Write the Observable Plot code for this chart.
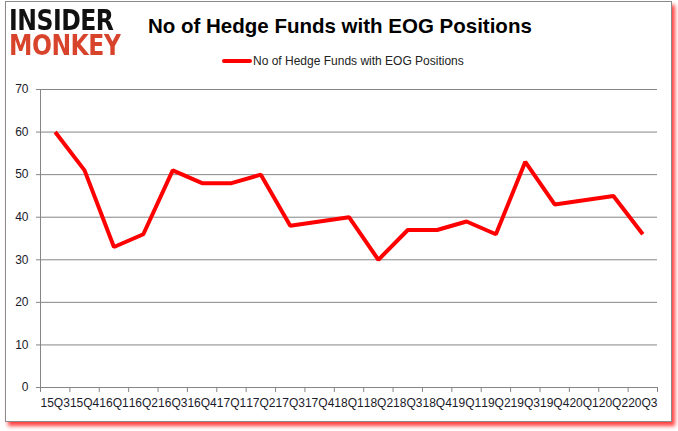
<!DOCTYPE html>
<html>
<head>
<meta charset="utf-8">
<script src="https://cdn.jsdelivr.net/npm/d3@7"></script>
<script src="https://cdn.jsdelivr.net/npm/@observablehq/plot@0.6"></script>
<style>
  html, body { margin: 0; padding: 0; background: #fff; }
  #wrap { position: relative; width: 678px; height: 431px; overflow: hidden; font-family: "Liberation Sans", Arial, sans-serif; }
  #frame { position: absolute; left: 5px; top: 1px; width: 665px; height: 419px; border: 1px solid #8a8a8a; box-shadow: 3px 4px 4px rgba(255,0,0,0.75); background: #fff; }
  #chart { position: absolute; left: 0; top: 0; }
  #title { position: absolute; left: 148px; top: 14px; font-family: "Liberation Sans", Arial, sans-serif; font-weight: bold; font-size: 20.5px; color: #000; white-space: nowrap; }
  #logo { position: absolute; left: 9px; top: 8.8px; font-family: "DejaVu Sans", sans-serif; font-weight: bold; white-space: pre; letter-spacing: -0.5px; font-size: 24px; line-height: 20.5px; transform-origin: 0 0; transform: scale(0.98, 1.17);
          background: linear-gradient(to bottom, #111 0px, #111 20.3px, #d8432c 20.3px, #d8432c 100%); -webkit-background-clip: text; background-clip: text; color: transparent; }
  #legend { position: absolute; left: 222px; top: 54px; font-size: 12px; color: #222; white-space: nowrap; display: flex; align-items: center; }
  #legend .sw { display: inline-block; width: 30px; height: 4px; background: #ff0000; border-radius: 2px; margin-right: 1px; }
</style>
</head>
<body>
<div id="wrap">
  <div id="frame"></div>
  <div id="chart"></div>
  <div id="logo">INSIDER
MONKEY</div>
  <div id="title">No of Hedge Funds with EOG Positions</div>
  <div id="legend"><span class="sw"></span><span>No of Hedge Funds with EOG Positions</span></div>
</div>
<script>
const quarters = ["15Q3","15Q4","16Q1","16Q2","16Q3","16Q4","17Q1","17Q2","17Q3","17Q4","18Q1","18Q2","18Q3","18Q4","19Q1","19Q2","19Q3","19Q4","20Q1","20Q2","20Q3"];
const funds = [60, 51, 33, 36, 51, 48, 48, 50, 38, 39, 40, 30, 37, 37, 39, 36, 53, 43, 44, 45, 36];
const yTicks = [0, 10, 20, 30, 40, 50, 60, 70];

const data = quarters.map((q, i) => ({i, q, v: funds[i]}));
const xMin = -0.5, xMax = quarters.length - 0.5;
const boundaries = d3.range(quarters.length + 1).map(k => k - 0.5);

const chart = Plot.plot({
  width: 678,
  height: 431,
  marginTop: 89,
  marginBottom: 44,
  marginLeft: 40,
  marginRight: 21,
  style: {fontFamily: "Liberation Sans, Arial, sans-serif", fontSize: "12px", color: "#1a1a2a", background: "transparent"},
  x: {domain: [xMin, xMax]},
  y: {domain: [0, 70]},
  marks: [
    Plot.gridY(yTicks.filter(t => t > 0), {stroke: "#868686", strokeOpacity: 1, strokeWidth: 1}),
    Plot.ruleX([xMin], {stroke: "#868686", strokeWidth: 1}),
    Plot.ruleY([0], {stroke: "#868686", strokeWidth: 1}),
    Plot.axisY({ticks: yTicks, tickSize: 4, tickPadding: 8, stroke: "#868686", label: null, tickFormat: d => String(d)}),
    Plot.axisX({ticks: boundaries, tickSize: 5, tickFormat: () => "", stroke: "#868686", label: null}),
    Plot.axisX({ticks: d3.range(quarters.length), tickSize: 0, tickPadding: 11, tickFormat: i => quarters[i], label: null}),
    Plot.lineY(data, {x: "i", y: "v", stroke: "#ff0000", strokeWidth: 4, strokeLinejoin: "miter", strokeLinecap: "butt"})
  ]
});
document.getElementById("chart").appendChild(chart);
</script>
</body>
</html>
